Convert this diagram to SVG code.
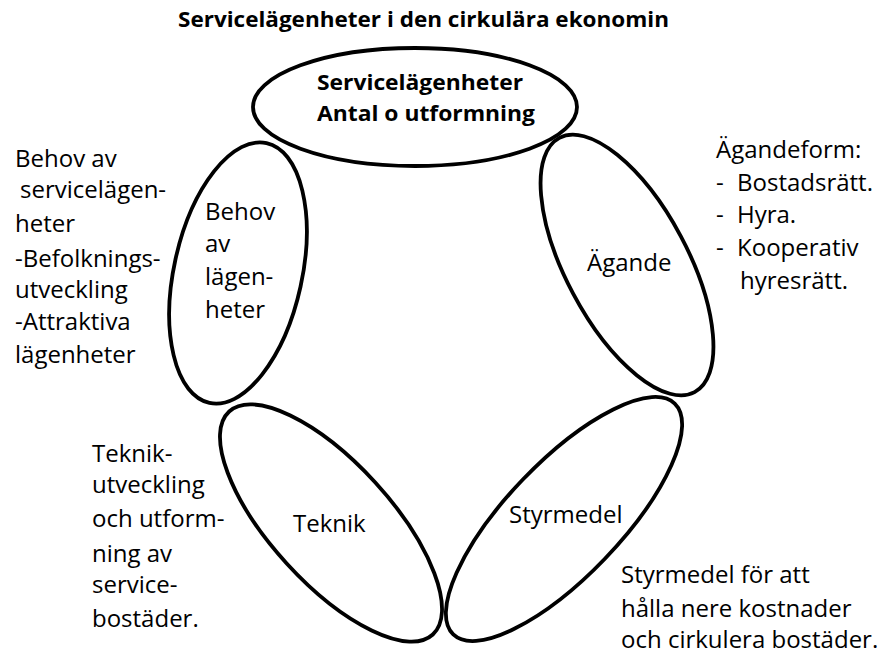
<svg xmlns="http://www.w3.org/2000/svg" width="889" height="654" viewBox="0 0 889 654">
<style>
.e{fill:none;stroke:#000;stroke-width:3.8}
.t{font-family:"Open Sans","Liberation Sans",sans-serif;font-size:24px;fill:#000}
.b{font-family:"Open Sans","Liberation Sans",sans-serif;font-size:22px;font-weight:bold;fill:#000}
</style>
<rect width="889" height="654" fill="#fff"/>
<text class="b" x="178" y="27" textLength="491" lengthAdjust="spacingAndGlyphs">Servicelägenheter i den cirkulära ekonomin</text>
<g id="node-top">
<ellipse class="e" cx="415" cy="107" rx="162" ry="59"/>
<text class="b" x="317" y="90" textLength="206" lengthAdjust="spacingAndGlyphs">Servicelägenheter</text>
<text class="b" x="317" y="121" textLength="218" lengthAdjust="spacingAndGlyphs">Antal o utformning</text>
</g>
<g id="node-behov">
<ellipse class="e" cx="238" cy="273" rx="64" ry="133" transform="rotate(12.4 238 273)"/>
<text class="t" x="205" y="220">Behov</text>
<text class="t" x="205" y="252">av</text>
<text class="t" x="205" y="285">lägen-</text>
<text class="t" x="205" y="318">heter</text>
</g>
<g id="node-agande">
<ellipse class="e" cx="627" cy="265" rx="61" ry="144" transform="rotate(-28 627 265)"/>
<text class="t" x="587" y="271">Ägande</text>
</g>
<g id="node-teknik">
<ellipse class="e" cx="331" cy="523" rx="60" ry="151" transform="rotate(-42.4 331 523)"/>
<text class="t" x="293" y="532">Teknik</text>
</g>
<g id="node-styrmedel">
<ellipse class="e" cx="564" cy="519" rx="57" ry="160" transform="rotate(43.8 564 519)"/>
<text class="t" x="509" y="523">Styrmedel</text>
</g>
<g id="note-behov">
<text class="t" x="15" y="167">Behov av</text>
<text class="t" x="20" y="198">servicelägen-</text>
<text class="t" x="15" y="232">heter</text>
<text class="t" x="15" y="267">-Befolknings-</text>
<text class="t" x="15" y="298">utveckling</text>
<text class="t" x="15" y="330">-Attraktiva</text>
<text class="t" x="15" y="363">lägenheter</text>
</g>
<g id="note-agande">
<text class="t" x="716" y="158">Ägandeform:</text>
<text class="t" x="716" y="191">-</text><text class="t" x="737" y="191">Bostadsrätt.</text>
<text class="t" x="716" y="223">-</text><text class="t" x="737" y="223">Hyra.</text>
<text class="t" x="716" y="256">-</text><text class="t" x="737" y="256">Kooperativ</text>
<text class="t" x="740" y="289">hyresrätt.</text>
</g>
<g id="note-teknik">
<text class="t" x="92" y="462">Teknik-</text>
<text class="t" x="92" y="493">utveckling</text>
<text class="t" x="92" y="527">och utform-</text>
<text class="t" x="92" y="562">ning av</text>
<text class="t" x="92" y="593">service-</text>
<text class="t" x="92" y="627">bostäder.</text>
</g>
<g id="note-styrmedel">
<text class="t" x="621" y="583">Styrmedel för att</text>
<text class="t" x="621" y="617">hålla nere kostnader</text>
<text class="t" x="621" y="648">och cirkulera bostäder.</text>
</g>
</svg>
